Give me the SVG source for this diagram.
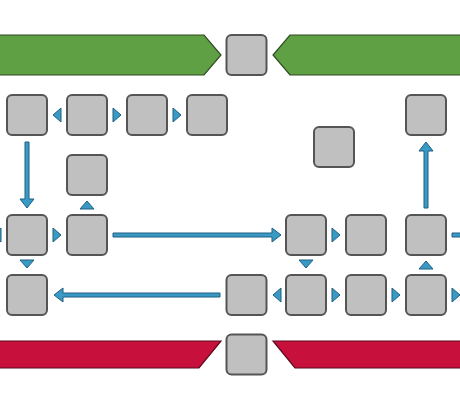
<svg xmlns="http://www.w3.org/2000/svg" width="460" height="400" viewBox="0 0 460 400">
<style>
.box{fill:#c0c0c0;stroke:#555;stroke-width:2}
.arr{fill:#3a9ac6;stroke:#1f5f80;stroke-width:1;stroke-linejoin:miter}
.green{fill:#5fa044;stroke:#2e4a22;stroke-width:1.2}
.red{fill:#c8103c;stroke:#5a0a1e;stroke-width:1.2}
</style>
<rect width="460" height="400" fill="#fff"/>
<g id="bars">
<polygon class="green" points="-5,35 204,35 221,55 204,75 -5,75"/>
<polygon class="green" points="465,35 290,35 273,55 290,75 465,75"/>
<polygon class="red" points="-5,341 221,341 199,368 -5,368"/>
<polygon class="red" points="465,341 273,341 295,368 465,368"/>
</g>
<g id="connectors">
<path class="arr" d="M25,142 H29 V199 H34 L27,208 L20,199 H25 Z"/>
<path class="arr" d="M113,233 H272 V228 L281,235 L272,242 V237 H113 Z"/>
<path class="arr" d="M220,293 H63 V288 L54,295 L63,302 V297 H220 Z"/>
<path class="arr" d="M424,208 V151 H419 L426,142 L433,151 H428 V208 Z"/>
<path class="arr" d="M452,233 H465 V237 H452 Z"/>
<polygon class="arr" points="61,108 53,115 61,122"/>
<polygon class="arr" points="113,108 121,115 113,122"/>
<polygon class="arr" points="173,108 181,115 173,122"/>
<polygon class="arr" points="80,209 94,209 87,201"/>
<polygon class="arr" points="1,228 -7,235 1,242"/>
<polygon class="arr" points="53,228 61,235 53,242"/>
<polygon class="arr" points="20,260 34,260 27,268"/>
<polygon class="arr" points="332,228 340,235 332,242"/>
<polygon class="arr" points="299,260 313,260 306,268"/>
<polygon class="arr" points="419,269 433,269 426,261"/>
<polygon class="arr" points="281,288 273,295 281,302"/>
<polygon class="arr" points="332,288 340,295 332,302"/>
<polygon class="arr" points="392,288 400,295 392,302"/>
<polygon class="arr" points="452,288 460,295 452,302"/>
</g>
<g id="n-top"><rect class="box" x="226.5" y="35" width="40" height="40" rx="5"/></g>
<g id="n-bottom"><rect class="box" x="226.5" y="334.5" width="40" height="40" rx="5"/></g>
<g id="n-r1c1"><rect class="box" x="7" y="95" width="40" height="40" rx="5"/></g>
<g id="n-r1c2"><rect class="box" x="67" y="95" width="40" height="40" rx="5"/></g>
<g id="n-r1c3"><rect class="box" x="127" y="95" width="40" height="40" rx="5"/></g>
<g id="n-r1c4"><rect class="box" x="187" y="95" width="40" height="40" rx="5"/></g>
<g id="n-r1c8"><rect class="box" x="406" y="95" width="40" height="40" rx="5"/></g>
<g id="n-float"><rect class="box" x="314" y="127" width="40" height="40" rx="5"/></g>
<g id="n-r2c2"><rect class="box" x="67" y="155" width="40" height="40" rx="5"/></g>
<g id="n-r3c1"><rect class="box" x="7" y="215" width="40" height="40" rx="5"/></g>
<g id="n-r3c2"><rect class="box" x="67" y="215" width="40" height="40" rx="5"/></g>
<g id="n-r3c6"><rect class="box" x="286" y="215" width="40" height="40" rx="5"/></g>
<g id="n-r3c7"><rect class="box" x="346" y="215" width="40" height="40" rx="5"/></g>
<g id="n-r3c8"><rect class="box" x="406" y="215" width="40" height="40" rx="5"/></g>
<g id="n-r4c1"><rect class="box" x="7" y="275" width="40" height="40" rx="5"/></g>
<g id="n-r4c5"><rect class="box" x="226.5" y="275" width="40" height="40" rx="5"/></g>
<g id="n-r4c6"><rect class="box" x="286" y="275" width="40" height="40" rx="5"/></g>
<g id="n-r4c7"><rect class="box" x="346" y="275" width="40" height="40" rx="5"/></g>
<g id="n-r4c8"><rect class="box" x="406" y="275" width="40" height="40" rx="5"/></g>
</svg>
